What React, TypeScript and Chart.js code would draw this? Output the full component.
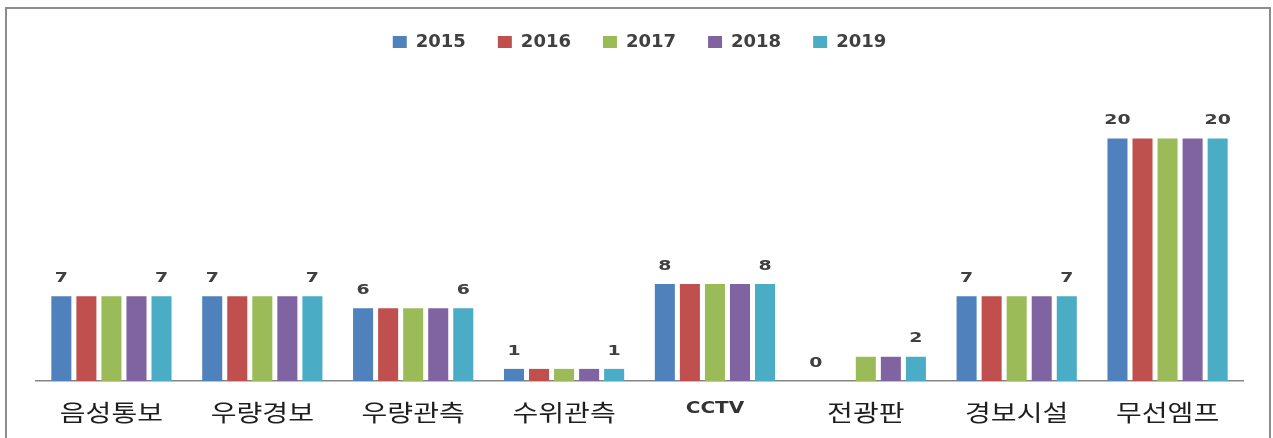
import React, { useEffect, useRef } from "react";
import { Chart, registerables } from "chart.js";

Chart.register(...registerables);

const categories = ["음성통보", "우량경보", "우량관측", "수위관측", "CCTV", "전광판", "경보시설", "무선엠프"];
const years = ["2015", "2016", "2017", "2018", "2019"];
const v2015 = [7, 7, 6, 1, 8, 0, 7, 20];
const v2016 = [7, 7, 6, 1, 8, 0, 7, 20];
const v2017 = [7, 7, 6, 1, 8, 2, 7, 20];
const v2018 = [7, 7, 6, 1, 8, 2, 7, 20];
const v2019 = [7, 7, 6, 1, 8, 2, 7, 20];
const seriesValues = [v2015, v2016, v2017, v2018, v2019];
const colors = ["#4F81BD", "#C0504D", "#9BBB59", "#8064A2", "#4BACC6"];
const labelledSeries = [0, 4];

function drawStretched(ctx: CanvasRenderingContext2D, text: string, x: number, y: number, sx: number) {
  ctx.save();
  ctx.translate(x, y);
  ctx.scale(sx, 1);
  ctx.fillText(text, 0, 0);
  ctx.restore();
}

const legendHeightPlugin = {
  id: "legendHeight",
  beforeUpdate(chart: any) {
    const lg = chart.legend;
    if (lg && !lg.__patched) {
      const orig = lg.fit;
      lg.fit = function () {
        orig.call(this);
        this.height = 77;
      };
      lg.__patched = true;
    }
  },
};

const labelPlugin = {
  id: "textLabels",
  afterDatasetsDraw(chart: any) {
    const ctx = chart.ctx;
    ctx.save();
    ctx.textAlign = "center";
    ctx.textBaseline = "middle";
    ctx.font = "bold 14px 'DejaVu Sans'";
    ctx.fillStyle = "#404040";
    labelledSeries.forEach((di) => {
      const meta = chart.getDatasetMeta(di);
      meta.data.forEach((bar: any, i: number) => {
        const val = chart.data.datasets[di].data[i];
        drawStretched(ctx, String(val), bar.x, bar.y - 18, 1.35);
      });
    });
    const xs = chart.scales.x;
    (chart.data.labels as string[]).forEach((lab, i) => {
      const px = xs.getPixelForTick(i);
      if (/^[\x00-\x7f]+$/.test(lab)) {
        ctx.font = "bold 16px 'DejaVu Sans'";
        ctx.fillStyle = "#333333";
        drawStretched(ctx, lab, px, xs.top + 28, 1.25);
      } else {
        ctx.font = "23px 'Noto Sans CJK KR'";
        ctx.fillStyle = "#1e1e1e";
        drawStretched(ctx, lab, px, xs.top + 31, 1.22);
      }
    });
    ctx.restore();
  },
};

const framePlugin = {
  id: "frame",
  afterDraw(chart: any) {
    const ctx = chart.ctx;
    ctx.save();
    ctx.strokeStyle = "#8c8c8c";
    ctx.lineWidth = 2;
    ctx.strokeRect(6, 8, 1264, 500);
    ctx.restore();
  },
};

export default function App() {
  const ref = useRef<HTMLCanvasElement>(null);
  useEffect(() => {
    if (!ref.current) return;
    const chart = new Chart(ref.current, {
      type: "bar",
      data: {
        labels: categories,
        datasets: years.map((y, i) => ({
          label: y,
          data: seriesValues[i],
          backgroundColor: colors[i],
          borderWidth: 0,
          categoryPercentage: 0.83,
          barPercentage: 0.8,
        })),
      },
      options: {
        animation: false,
        responsive: false,
        maintainAspectRatio: false,
        layout: { padding: { left: 36, right: 30, top: 1, bottom: 0 } },
        plugins: {
          legend: {
            position: "top",
            labels: {
              boxWidth: 14,
              boxHeight: 12,
              padding: 32,
              color: "#404040",
              font: { family: "'DejaVu Sans'", size: 18, weight: "bold" },
            },
          },
          tooltip: { enabled: false },
        },
        scales: {
          x: {
            grid: { display: false, drawTicks: false },
            border: { display: true, color: "#868686", width: 1.5 },
            ticks: { display: false },
            afterFit: (scale: any) => {
              scale.height = 57;
            },
          },
          y: { display: false, min: 0, max: 25 },
        },
      },
      plugins: [legendHeightPlugin, labelPlugin, framePlugin],
    });
    return () => chart.destroy();
  }, []);
  return (
    <div style={{ position: "fixed", left: 0, top: 0, width: 1273, height: 438, background: "#fff" }}>
      <canvas ref={ref} width={1273} height={438} />
    </div>
  );
}
